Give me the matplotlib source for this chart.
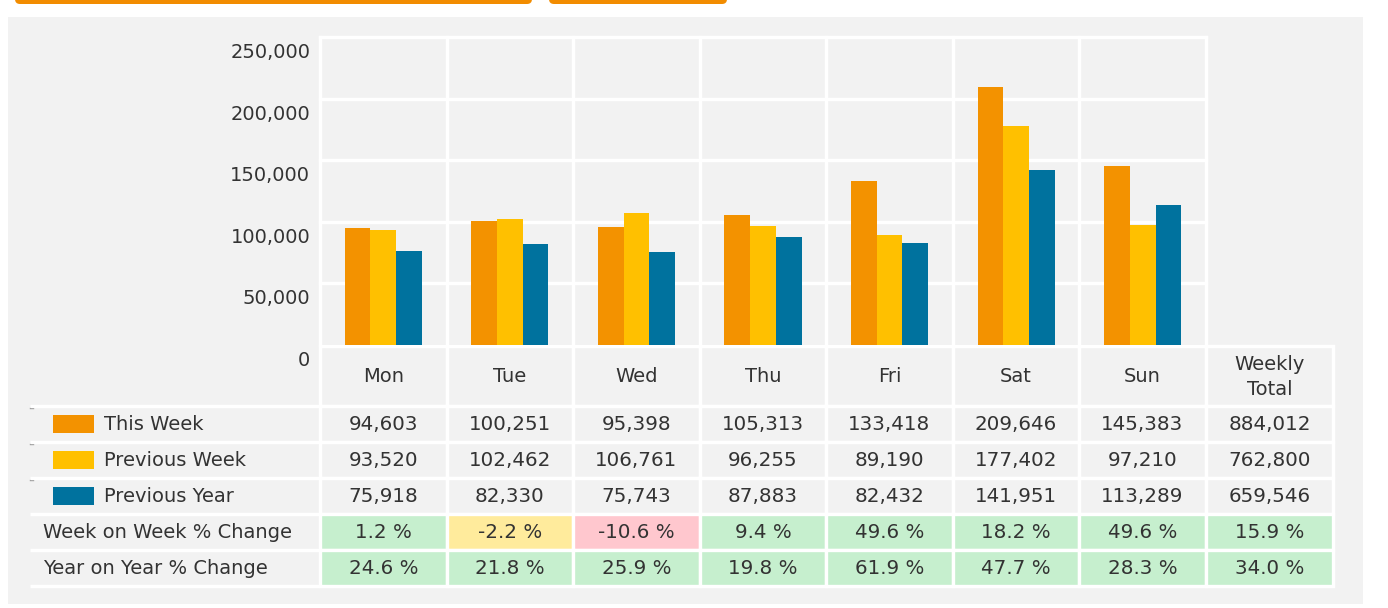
import numpy as np
import matplotlib
matplotlib.use("Agg")
import matplotlib.pyplot as plt
from matplotlib.patches import Rectangle, FancyBboxPatch
from matplotlib.transforms import ScaledTranslation

days = ["Mon", "Tue", "Wed", "Thu", "Fri", "Sat", "Sun"]
total_label = "Weekly\nTotal"
series_names = ["This Week", "Previous Week", "Previous Year"]
this_week = [94603, 100251, 95398, 105313, 133418, 209646, 145383]
prev_week = [93520, 102462, 106761, 96255, 89190, 177402, 97210]
prev_year = [75918, 82330, 75743, 87883, 82432, 141951, 113289]
totals = [884012, 762800, 659546]
wow_change = [1.2, -2.2, -10.6, 9.4, 49.6, 18.2, 49.6, 15.9]
yoy_change = [24.6, 21.8, 25.9, 19.8, 61.9, 47.7, 28.3, 34.0]
change_labels = ["Week on Week % Change", "Year on Year % Change"]
yticks = [0, 50000, 100000, 150000, 200000, 250000]

series_colors = ["#F39200", "#FFC000", "#00729E"]
panel_bg = "#F2F2F2"
text_col = "#333333"
GREEN, YELLOW, RED = "#C6EFCE", "#FFEB9C", "#FFC7CE"

def change_color(v):
    if v >= 0:
        return GREEN
    if v > -5:
        return YELLOW
    return RED

W, H = 1388, 608
fig = plt.figure(figsize=(W / 100, H / 100), dpi=100)
fig.patch.set_facecolor("white")

# background / table axes in pixel coordinates
bg = fig.add_axes([0, 0, 1, 1])
bg.set_xlim(0, W)
bg.set_ylim(H, 0)
bg.axis("off")
bg.set_zorder(0)

bg.add_patch(Rectangle((8, 17), 1355, 587, facecolor=panel_bg, edgecolor="none"))
for x0, x1 in [(15, 532), (549, 727)]:
    bg.add_patch(FancyBboxPatch((x0, -8), x1 - x0, 12,
                                boxstyle="round,pad=0,rounding_size=5",
                                facecolor="#F28C00", edgecolor="none"))

# chart axes
ax_left, ax_right, ax_top, ax_bottom = 320, 1206, 37, 345
ax = fig.add_axes([ax_left / W, (H - ax_bottom) / H,
                   (ax_right - ax_left) / W, (ax_bottom - ax_top) / H])
ax.set_zorder(2)
ax.set_facecolor(panel_bg)
x = np.arange(len(days))
bw = 0.203
for i, (vals, c) in enumerate(zip([this_week, prev_week, prev_year], series_colors)):
    ax.bar(x + (i - 1) * bw, vals, width=bw, color=c, zorder=3)
ax.set_xlim(-0.5, len(days) - 0.5)
ax.set_ylim(0, 250000)
for s in ax.spines.values():
    s.set_visible(False)
for v in yticks[1:]:
    ax.axhline(v, color="white", lw=2.4, zorder=1, clip_on=False)
for xe in np.arange(-0.5, len(days), 1):
    ax.axvline(xe, color="white", lw=2.4, zorder=1, clip_on=False)
ax.set_xticks([])
ax.set_yticks(yticks)
ax.set_yticklabels([f"{v:,}" for v in yticks], fontsize=14, color=text_col)
ax.tick_params(axis="y", length=0, pad=7)
off = ScaledTranslation(0, -0.135, fig.dpi_scale_trans)
for lab in ax.get_yticklabels():
    lab.set_transform(lab.get_transform() + off)

# table geometry
col_edges = [320, 447, 573, 700, 826, 953, 1079, 1206, 1333]
head_top, head_bot = 346, 406
row_edges = [406, 442, 478, 514, 550, 586]
lbl_left = 30
num_font = dict(family="DejaVu Sans", fontsize=14.3, color=text_col)
txt_font = dict(family="DejaVu Sans", fontsize=14, color=text_col)

# header row
col_names = days + [total_label]
for j, name in enumerate(col_names):
    x0, x1 = col_edges[j], col_edges[j + 1]
    bg.add_patch(Rectangle((x0, head_top), x1 - x0, head_bot - head_top,
                           facecolor=panel_bg, edgecolor="white", lw=2.4, zorder=2))
    bg.text((x0 + x1) / 2, (head_top + head_bot) / 2 + 1, name, ha="center", va="center",
            linespacing=1.35, zorder=4, **txt_font)

# data rows
value_rows = [this_week + [totals[0]], prev_week + [totals[1]], prev_year + [totals[2]]]
text_rows = [[f"{v:,}" for v in r] for r in value_rows]
text_rows += [[f"{v:.1f} %" for v in wow_change], [f"{v:.1f} %" for v in yoy_change]]
color_rows = [[panel_bg] * 8, [panel_bg] * 8, [panel_bg] * 8,
              [change_color(v) for v in wow_change], [change_color(v) for v in yoy_change]]
for r in range(5):
    y0, y1 = row_edges[r], row_edges[r + 1]
    yc = (y0 + y1) / 2
    for j in range(8):
        x0, x1 = col_edges[j], col_edges[j + 1]
        bg.add_patch(Rectangle((x0, y0), x1 - x0, y1 - y0, facecolor=color_rows[r][j],
                               edgecolor="white", lw=2.4, zorder=2))
        bg.text((x0 + x1) / 2, yc + 1, text_rows[r][j], ha="center", va="center",
                zorder=4, **num_font)
    if r < 3:
        bg.add_patch(Rectangle((53, yc - 9), 41, 18, facecolor=series_colors[r],
                               edgecolor="none", zorder=3))
        bg.text(104, yc, series_names[r], ha="left", va="center", zorder=4, **txt_font)
        bg.plot([lbl_left, lbl_left + 3], [y0 + 2, y0 + 2], color="#999999", lw=1, zorder=3)
    else:
        bg.text(43, yc + 1, change_labels[r - 3], ha="left", va="center", zorder=4, **txt_font)

for yl in row_edges:
    bg.plot([lbl_left, col_edges[0]], [yl, yl], color="white", lw=2.4, zorder=3,
            solid_capstyle="butt")

fig.savefig("out.png", dpi=100, facecolor="white")
